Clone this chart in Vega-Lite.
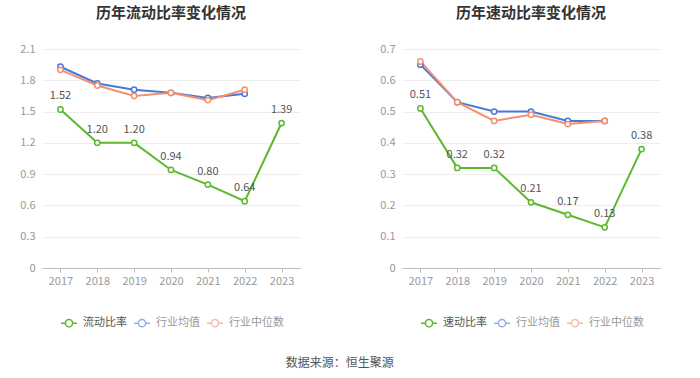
{
  "$schema": "https://vega.github.io/schema/vega-lite/v6.json",
  "background": "white",
  "padding": {"left": 19, "top": 6, "right": 5, "bottom": 5},
  "config": {
    "font": "Noto Sans CJK SC",
    "view": {"stroke": null},
    "concat": {"spacing": 79},
    "title": {"fontSize": 15, "fontWeight": "bold", "color": "#333", "offset": 22},
    "axisY": {"domain": false, "ticks": false, "labelColor": "#999", "labelFontSize": 11, "labelPadding": 7, "gridColor": "#eeeeee", "title": null},
    "axisX": {"domainColor": "#bbb", "tickColor": "#bbb", "tickSize": 4, "labelColor": "#999", "labelFontSize": 11, "labelPadding": 3, "grid": false, "title": null, "labelAngle": 0},
    "legend": {"orient": "none", "direction": "horizontal", "title": null, "labelColor": "#666", "labelFontSize": 11, "symbolSize": 256, "symbolStrokeWidth": 1.5, "columnPadding": 4, "labelOffset": 5,
      "symbolType": "M-1,0H-0.45M0.45,0H1M-0.45,0A0.45,0.45,0,1,1,0.45,0A0.45,0.45,0,1,1,-0.45,0"}
  },
  "title": {"text": "数据来源：恒生聚源", "orient": "bottom", "anchor": "middle", "fontSize": 12, "fontWeight": "normal", "color": "#555", "offset": 28},
  "data": {"values": [
    {"c": "L", "year": "2017", "s": "流动比率", "v": 1.52},
    {"c": "L", "year": "2018", "s": "流动比率", "v": 1.20},
    {"c": "L", "year": "2019", "s": "流动比率", "v": 1.20},
    {"c": "L", "year": "2020", "s": "流动比率", "v": 0.94},
    {"c": "L", "year": "2021", "s": "流动比率", "v": 0.80},
    {"c": "L", "year": "2022", "s": "流动比率", "v": 0.64},
    {"c": "L", "year": "2023", "s": "流动比率", "v": 1.39},
    {"c": "L", "year": "2017", "s": "行业均值", "v": 1.93},
    {"c": "L", "year": "2018", "s": "行业均值", "v": 1.77},
    {"c": "L", "year": "2019", "s": "行业均值", "v": 1.71},
    {"c": "L", "year": "2020", "s": "行业均值", "v": 1.68},
    {"c": "L", "year": "2021", "s": "行业均值", "v": 1.63},
    {"c": "L", "year": "2022", "s": "行业均值", "v": 1.67},
    {"c": "L", "year": "2017", "s": "行业中位数", "v": 1.90},
    {"c": "L", "year": "2018", "s": "行业中位数", "v": 1.75},
    {"c": "L", "year": "2019", "s": "行业中位数", "v": 1.65},
    {"c": "L", "year": "2020", "s": "行业中位数", "v": 1.68},
    {"c": "L", "year": "2021", "s": "行业中位数", "v": 1.61},
    {"c": "L", "year": "2022", "s": "行业中位数", "v": 1.71},
    {"c": "R", "year": "2017", "s": "速动比率", "v": 0.51},
    {"c": "R", "year": "2018", "s": "速动比率", "v": 0.32},
    {"c": "R", "year": "2019", "s": "速动比率", "v": 0.32},
    {"c": "R", "year": "2020", "s": "速动比率", "v": 0.21},
    {"c": "R", "year": "2021", "s": "速动比率", "v": 0.17},
    {"c": "R", "year": "2022", "s": "速动比率", "v": 0.13},
    {"c": "R", "year": "2023", "s": "速动比率", "v": 0.38},
    {"c": "R", "year": "2017", "s": "行业均值", "v": 0.65},
    {"c": "R", "year": "2018", "s": "行业均值", "v": 0.53},
    {"c": "R", "year": "2019", "s": "行业均值", "v": 0.50},
    {"c": "R", "year": "2020", "s": "行业均值", "v": 0.50},
    {"c": "R", "year": "2021", "s": "行业均值", "v": 0.47},
    {"c": "R", "year": "2022", "s": "行业均值", "v": 0.47},
    {"c": "R", "year": "2017", "s": "行业中位数", "v": 0.66},
    {"c": "R", "year": "2018", "s": "行业中位数", "v": 0.53},
    {"c": "R", "year": "2019", "s": "行业中位数", "v": 0.47},
    {"c": "R", "year": "2020", "s": "行业中位数", "v": 0.49},
    {"c": "R", "year": "2021", "s": "行业中位数", "v": 0.46},
    {"c": "R", "year": "2022", "s": "行业中位数", "v": 0.47}
  ]},
  "resolve": {"scale": {"color": "independent", "y": "independent"}, "legend": {"color": "independent"}},
  "hconcat": [
    {
      "title": "历年流动比率变化情况",
      "width": 258, "height": 219,
      "transform": [{"filter": "datum.c === 'L'"}],
      "encoding": {
        "x": {"field": "year", "type": "ordinal", "scale": {"type": "point", "padding": 0.5}},
        "y": {"field": "v", "type": "quantitative", "scale": {"domain": [0, 2.1], "nice": false}, "axis": {"values": [0, 0.3, 0.6, 0.9, 1.2, 1.5, 1.8, 2.1], "format": ".1~f"}}
      },
      "layer": [
        {"mark": {"type": "line", "strokeWidth": 2},
         "encoding": {"color": {"field": "s", "type": "nominal", "scale": {"domain": ["流动比率", "行业均值", "行业中位数"], "range": ["#5cb82f", "#4a78d8", "#f39070"]},
           "legend": {"legendX": 18, "legendY": 265, "encode": {"labels": {"update": {"fill": {"signal": "datum.value === '流动比率' ? '#555' : '#999'"}}}, "symbols": {"update": {"opacity": {"signal": "datum.value === '流动比率' ? 1 : 0.6"}}}}}}}},
        {"mark": {"type": "point", "filled": false, "fill": "white", "size": 28, "strokeWidth": 1.5, "opacity": 1},
         "encoding": {"color": {"field": "s", "type": "nominal", "scale": {"domain": ["流动比率", "行业均值", "行业中位数"], "range": ["#5cb82f", "#4a78d8", "#f39070"]},
           "legend": {"legendX": 18, "legendY": 265, "encode": {"labels": {"update": {"fill": {"signal": "datum.value === '流动比率' ? '#555' : '#999'"}}}, "symbols": {"update": {"opacity": {"signal": "datum.value === '流动比率' ? 1 : 0.6"}}}}}}}},
        {"transform": [{"filter": "datum.s === '流动比率'"}],
         "mark": {"type": "text", "dy": -13, "fontSize": 11, "color": "#555"},
         "encoding": {"text": {"field": "v", "type": "quantitative", "format": ".2f"}}}
      ]
    },
    {
      "title": "历年速动比率变化情况",
      "width": 258, "height": 219,
      "transform": [{"filter": "datum.c === 'R'"}],
      "encoding": {
        "x": {"field": "year", "type": "ordinal", "scale": {"type": "point", "padding": 0.5}},
        "y": {"field": "v", "type": "quantitative", "scale": {"domain": [0, 0.7], "nice": false}, "axis": {"values": [0, 0.1, 0.2, 0.3, 0.4, 0.5, 0.6, 0.7], "format": ".1~f"}}
      },
      "layer": [
        {"mark": {"type": "line", "strokeWidth": 2},
         "encoding": {"color": {"field": "s", "type": "nominal", "scale": {"domain": ["速动比率", "行业均值", "行业中位数"], "range": ["#5cb82f", "#4a78d8", "#f39070"]},
           "legend": {"legendX": 18, "legendY": 265, "encode": {"labels": {"update": {"fill": {"signal": "datum.value === '速动比率' ? '#555' : '#999'"}}}, "symbols": {"update": {"opacity": {"signal": "datum.value === '速动比率' ? 1 : 0.6"}}}}}}}},
        {"mark": {"type": "point", "filled": false, "fill": "white", "size": 28, "strokeWidth": 1.5, "opacity": 1},
         "encoding": {"color": {"field": "s", "type": "nominal", "scale": {"domain": ["速动比率", "行业均值", "行业中位数"], "range": ["#5cb82f", "#4a78d8", "#f39070"]},
           "legend": {"legendX": 18, "legendY": 265, "encode": {"labels": {"update": {"fill": {"signal": "datum.value === '速动比率' ? '#555' : '#999'"}}}, "symbols": {"update": {"opacity": {"signal": "datum.value === '速动比率' ? 1 : 0.6"}}}}}}}},
        {"transform": [{"filter": "datum.s === '速动比率'"}],
         "mark": {"type": "text", "dy": -13, "fontSize": 11, "color": "#555"},
         "encoding": {"text": {"field": "v", "type": "quantitative", "format": ".2f"}}}
      ]
    }
  ]
}
